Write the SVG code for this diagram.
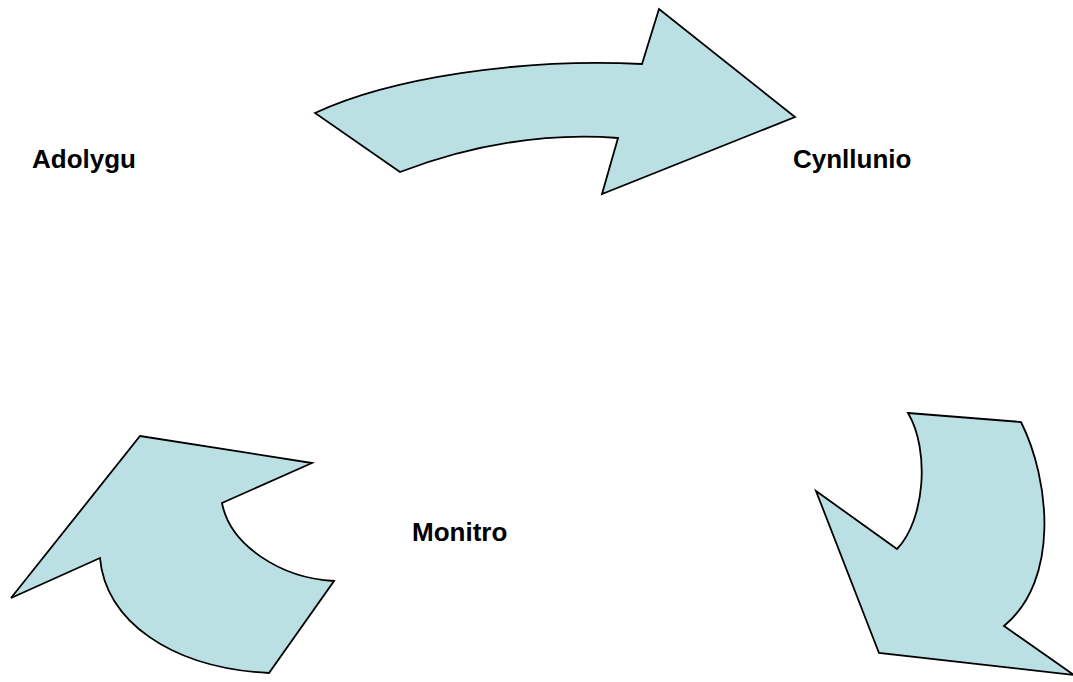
<svg xmlns="http://www.w3.org/2000/svg" width="1073" height="682" viewBox="0 0 1073 682">
<style>
.arrow{fill:#BBE0E3;stroke:#000;stroke-width:1.8;stroke-linejoin:miter}
.lbl{font-family:"Liberation Sans",Arial,sans-serif;font-weight:bold;font-size:26px;fill:#000}
</style>
<rect width="1073" height="682" fill="#fff"/>
<g id="connectors">
<path id="arrow-top" class="arrow" d="M315,113 C390,78 520,58 642,64 L659,9 L795,117 L602,194 L618,138 Q510,130 400,172 Z"/>
<path id="arrow-right" class="arrow" d="M908,413 L1021,422 C1050,480 1060,580 1004,626 L1074,675 L879,653 L816,491 L897,549 C925,520 930,450 908,413 Z"/>
<path id="arrow-left" class="arrow" d="M140,436 L312,463 L222,503 C230,545 280,578 334,581 L269,673 C170,668 105,620 100,558 L11,598 Z"/>
</g>
<g id="node-adolygu"><text class="lbl" x="32" y="168">Adolygu</text></g>
<g id="node-cynllunio"><text class="lbl" x="793" y="168">Cynllunio</text></g>
<g id="node-monitro"><text class="lbl" x="412" y="541">Monitro</text></g>
</svg>
